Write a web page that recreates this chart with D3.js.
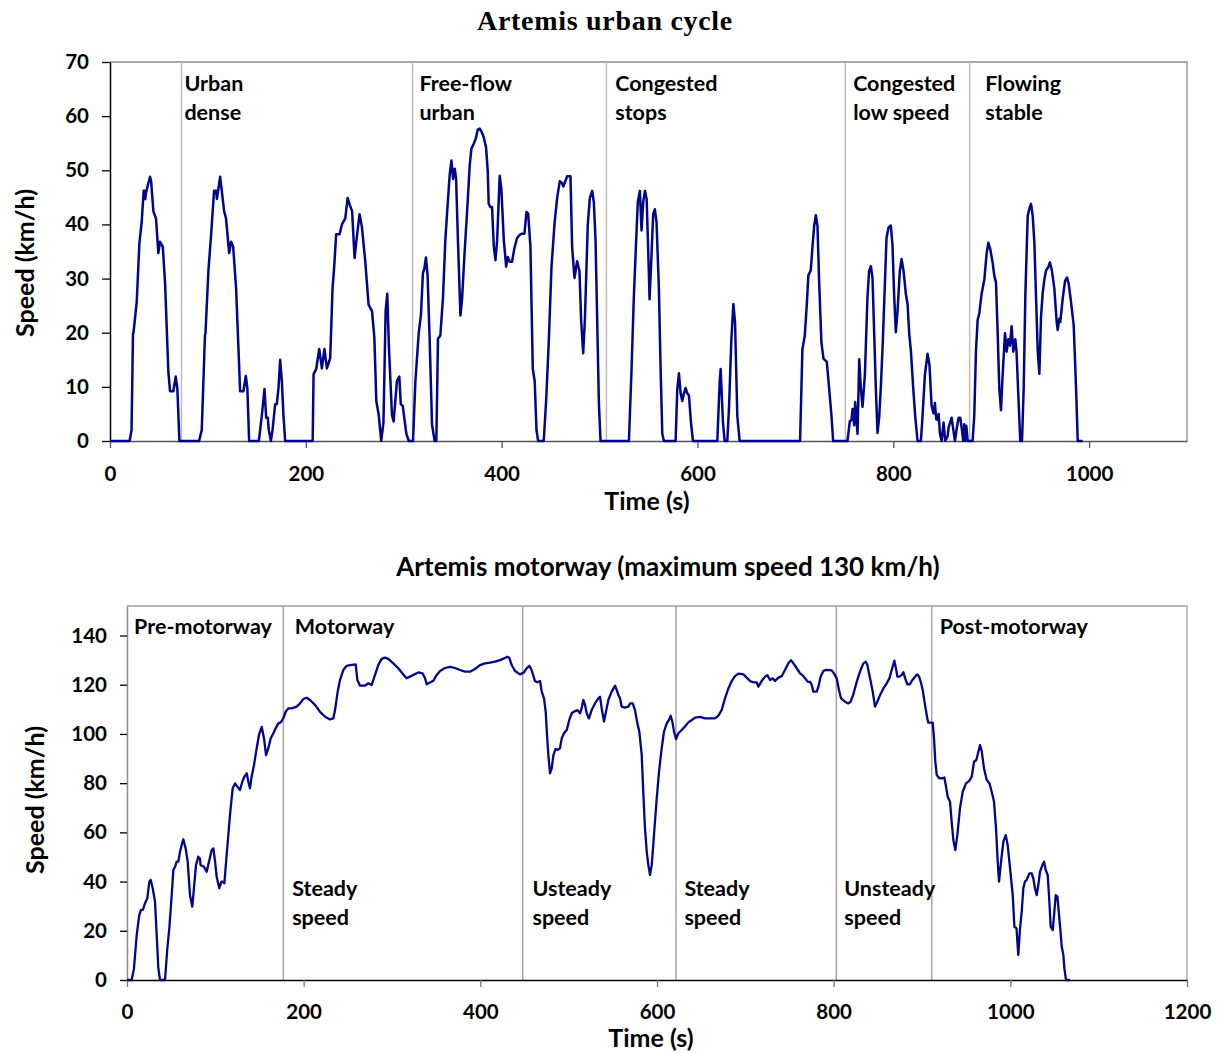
<!DOCTYPE html>
<html><head><meta charset="utf-8">
<script src="https://cdn.jsdelivr.net/npm/d3@7"></script>
<style>
body{margin:0;background:#fff;}
svg text{font-family:Lato,"Open Sans",sans-serif;font-weight:bold;fill:#000;}
</style></head>
<body><svg id="c" width="1221" height="1053"></svg>
<script>
// ---------- DATA ----------
const urbanTitle = "Artemis urban cycle";
const motorwayTitle = "Artemis motorway (maximum speed 130 km/h)";
const urbanXTicks = [0, 200, 400, 600, 800, 1000];
const urbanYTicks = [0, 10, 20, 30, 40, 50, 60, 70];
const motorwayXTicks = [0, 200, 400, 600, 800, 1000, 1200];
const motorwayYTicks = [0, 20, 40, 60, 80, 100, 120, 140];
const urbanBounds = [73, 309, 507, 751, 878];
const urbanLabels = [
  {t: 76, lines: ["Urban", "dense"]},
  {t: 316, lines: ["Free-flow", "urban"]},
  {t: 516, lines: ["Congested", "stops"]},
  {t: 759, lines: ["Congested", "low speed"]},
  {t: 894, lines: ["Flowing", "stable"]}
];
const motorwayBounds = [177, 448, 621.5, 803, 911];
const motorwayTopLabels = [
  {t: 8, text: "Pre-motorway"},
  {t: 190, text: "Motorway"},
  {t: 920, text: "Post-motorway"}
];
const motorwayBottomLabels = [
  {t: 187, lines: ["Steady", "speed"]},
  {t: 459, lines: ["Usteady", "speed"]},
  {t: 631, lines: ["Steady", "speed"]},
  {t: 812, lines: ["Unsteady", "speed"]}
];
// [time s, speed km/h]
const urbanCycle = [[0,0],[20,0],[22,2],[23.5,19.9],[24,20],[27.3,25.7],[30,36.5],[32.4,40.5],[34.4,46.2],[35.5,46.2],[36,44.7],[37,46],[39,47.5],[40.9,48.8],[42,48],[44.3,42.4],[47,41.1],[49.4,34.7],[51.1,36.8],[53.9,35.9],[56.2,29.4],[59.6,12.8],[61.3,9.2],[64.7,9.2],[67.1,11.9],[68.8,9.7],[70.9,0],[91,0],[93.7,2],[97,19.5],[97.5,19.9],[100.5,31.4],[103.3,38.2],[106.3,46.2],[108.5,46.2],[109.2,44.7],[112.5,48.8],[116.6,42.4],[118.5,41.1],[121.7,34.7],[123.7,36.8],[125.8,35.9],[128.8,28.2],[132.9,9.2],[136.3,9.2],[138.7,12],[140.3,9.7],[142.1,0],[152,0],[155,4.6],[157.8,9.6],[159.5,4.3],[161.2,4.3],[162,2.2],[164.3,0],[166,2],[168.7,6.8],[170.4,6.8],[172.1,9.8],[173.8,15],[175.5,11.1],[177.2,4.6],[178.9,0],[207,0],[207.9,12.3],[210.6,13.3],[213.7,17],[216.4,13.4],[219,17],[221.5,13.4],[224.9,15.3],[227.3,28.2],[229,32.2],[231,38.2],[234.5,38.2],[236.9,40],[240.3,41.1],[242.7,44.9],[244.7,43.7],[247.3,42.4],[249.8,33.8],[252,37.5],[254.9,41.9],[257.3,39.5],[260.7,33.2],[264.1,25.2],[267.6,24],[270,19.1],[272,7.4],[274.4,4.9],[277,0],[279.3,3.4],[281.5,24],[283.2,27.2],[284.9,17.2],[288,4.8],[289.7,3.6],[293.1,11.1],[295.5,11.9],[297,6.8],[299,6.5],[302.7,1.3],[305.2,0],[309.5,0],[311.9,11],[315.3,19.9],[317.6,23.3],[319.6,31],[321,31.8],[322.7,33.9],[324.4,30.5],[326.5,18.6],[328.9,3],[331.6,0],[333.3,0],[335,18.9],[337.4,19.5],[340.1,26.5],[342.5,37.1],[344.9,43.8],[347,49.3],[348.7,51.8],[350.4,48.4],[352.1,50.3],[353.5,48.4],[355.1,38.6],[357.9,23.2],[359.6,26.2],[362,34.3],[364.7,42.3],[367.4,50.9],[369.1,54],[371.5,54.9],[373.5,55.8],[375.6,57.5],[377.6,57.7],[379.3,57.2],[381.7,56.1],[384.1,54.2],[385.8,49.9],[386.8,43.8],[388.5,43.2],[390.2,43.2],[392,35.9],[393.7,33.4],[395.4,37.1],[398,49],[399.7,46.6],[402.2,37.2],[404.6,32.2],[406.3,34],[408.3,33.1],[410.6,33.1],[413.1,35.7],[415.8,37.5],[418.6,38.1],[421,38.3],[423.3,38.3],[425.4,42.3],[427.1,42],[429.4,35.9],[431.8,13.4],[433.8,11],[435.6,2],[437.3,0],[443,0],[445.5,7.6],[448.2,18.6],[450.9,32.1],[454,40.1],[456.7,44.9],[459.4,48],[461.4,47.7],[463,47],[466.9,48.9],[470.3,48.9],[472,35.9],[474.4,30.1],[477.1,33.2],[479.5,31.4],[481.2,22.3],[483.3,16.2],[485,22.3],[488,40],[490.1,44.9],[492.5,46.2],[494.2,44],[495.9,37.1],[497.6,22.3],[499.3,7.1],[501,0],[530,0],[532.7,13.3],[535,26.5],[537.5,37.5],[539.1,44.2],[541.2,46.2],[542.9,38.9],[544.6,44.2],[546.4,46.2],[548.1,44.7],[549.4,37.1],[551.1,26.2],[552.8,33.2],[554.8,41.9],[556.5,42.8],[558.2,40.4],[560.6,28.2],[562.4,13],[564.1,1.3],[565.8,0],[577.7,0],[579.4,9.6],[581.1,12.5],[582.8,8.8],[584.5,7.4],[586.2,8.8],[587.9,9.8],[589.6,8.8],[591.3,8.4],[593.3,3.6],[595.4,0],[620.3,0],[622.7,11],[623.7,13.3],[626,3.6],[627.8,0],[630.5,0],[632.3,6.5],[634.6,18.7],[636.7,25.3],[638.4,21.9],[640.7,4.6],[643.1,0],[704.8,0],[707.2,17],[709.6,19.4],[711.7,25.3],[713.3,30.6],[715.7,31.5],[717.8,36.6],[719.2,39.7],[720.9,41.7],[722.6,39.7],[724.3,29.3],[726.6,18.2],[728.7,15.2],[732.1,14.6],[734.5,9.7],[736.9,4.6],[738.6,0],[753.2,0],[755.6,3.6],[757.3,3.9],[758.4,5.9],[760.1,2.9],[761.1,7.2],[763.5,1.3],[765.2,15.1],[766.9,9.7],[768.6,6.3],[771,12.2],[773.6,26.4],[775.3,31.4],[777.1,32.3],[778.8,30.1],[780.5,19.9],[782.2,9.7],[783.9,1.5],[785.6,4.3],[787.3,10],[789,17],[790.7,25.3],[793.1,37.5],[795.1,39.4],[797.5,39.8],[799.2,36.2],[800.9,26.9],[802.6,20.1],[804.3,23.8],[806.7,31.4],[808.5,33.6],[810.5,31.4],[812.9,27.1],[814.6,25.3],[816.3,19.8],[818,16.7],[820.4,9.7],[822.4,4.6],[824.8,0],[828.2,0],[829.9,4.6],[832.3,12.2],[835,16.1],[837,14],[839.1,6.6],[841.1,5.1],[842.5,7],[843.9,4],[845.3,3.9],[846.3,5],[847.7,1.3],[849.4,0],[851.4,3.4],[853.1,0],[855.5,0.9],[856.5,2.5],[859.6,4.3],[861.3,2.1],[863,0],[864.6,2.1],[866.7,4.3],[868.4,4.3],[870.1,2.1],[871.5,0],[872.5,3.1],[873.5,0],[874.6,2.8],[876,0],[881,0],[882.7,4.6],[884.5,16.8],[886.2,22.4],[887.9,23.6],[890.3,27.3],[893,29.8],[895.4,34.7],[897.1,36.6],[899.1,35.4],[901.5,32.9],[903.2,30.5],[904.9,29.3],[906.6,20.1],[908.3,9.7],[910,5.7],[911.7,12.2],[914.1,19.9],[915.8,16.5],[917.5,18.8],[919.2,17.6],[920.9,21.2],[922.6,16.5],[924.6,18.8],[925.9,16.5],[928,7.3],[929.7,0],[931.5,0],[933.2,9.7],[934.9,27],[937.3,41.6],[939,42.9],[940.7,43.8],[942.4,41.6],[944.1,36.7],[945.8,26.7],[947.5,16.8],[949.2,12.4],[950.9,22.9],[952.6,27.3],[954.3,29.8],[956,31.5],[958.3,32.1],[960,33],[962,31.5],[964.5,28.2],[966.9,22],[967.9,20.5],[969.6,22.6],[970.6,22],[973.1,26.4],[975.5,29.6],[977.5,30.2],[979.2,29],[981.6,25.6],[984.3,21.3],[986.7,9.7],[988.4,0],[993.5,0]];
const motorwayCycle = [[0,0],[5.3,0],[7.9,4.7],[11,18.3],[13.9,26.4],[15.8,28.5],[18,28.5],[20.4,31.2],[23,33.2],[25.3,40],[26.8,40.7],[29.1,37.3],[31.7,31.9],[33.6,18.3],[35.5,4.7],[37.4,0],[43,0],[45.7,12.9],[47.9,21],[50.6,34.5],[52.5,44.7],[54.4,46],[56.2,48.1],[58.1,48.1],[60,52.1],[61.9,54.9],[63.7,57.2],[66.4,53.5],[68.7,48.1],[71.3,34.5],[73.9,29.8],[75.8,37.3],[78.1,46.7],[80.7,50.1],[82.6,49.4],[83.3,46.7],[87.1,46],[90.2,44],[92.8,48.1],[95.9,52.8],[97.8,53.5],[99.7,48.1],[101.5,42],[104.5,37.3],[106.9,40],[108.3,40],[110.2,39.3],[112.8,50.8],[116.6,67],[119.6,77.9],[122.3,79.9],[124.9,78.6],[127.9,77.2],[130.5,80.6],[132.8,82.6],[135.5,84],[137.4,80.6],[139.2,77.9],[141.1,82.6],[143.8,87.4],[146.8,94.2],[149.4,99.6],[152.5,102.9],[155.1,98.2],[157.4,91.4],[160,94.2],[162.7,98.2],[165.7,100.3],[168.3,102.3],[171.3,104.3],[174,104.7],[177,106.3],[179.6,109],[182.6,110.4],[186.4,110.4],[192.1,111.1],[195.9,112.4],[199.6,114.2],[203.4,114.7],[207.2,113.8],[212.8,111.8],[218.5,109],[224.2,107],[229.8,105.9],[233.6,106.3],[235.5,109.7],[238.5,117.2],[241.1,121.9],[244.9,126],[248.7,127.7],[252.5,128],[258.9,128.3],[260.8,121.9],[263.8,119.6],[269.4,119.6],[273.2,120.6],[277,119.9],[280.8,124],[284.5,128],[288.3,130.5],[292.1,131],[295.8,130.5],[301.5,128.7],[307.1,126.7],[312.8,124.2],[316.6,122.6],[320.4,123.3],[324.1,124],[329.8,125],[334.7,124.6],[337.4,122.6],[339.3,120.2],[343,120.9],[346.8,121.6],[350.6,124],[354.4,125.6],[360,126.8],[365.7,127.3],[371.3,126.8],[377,126],[382.7,125.3],[388.3,125.3],[394,126.4],[399.6,128],[405.3,128.7],[411,129],[416.6,129.4],[422.3,130],[426.8,130.7],[430.6,131.4],[432.8,130.9],[435.5,128],[439.3,125.6],[444.9,124.2],[449.4,125],[452.5,126.7],[455.5,127.7],[458,126],[461.9,121.5],[464.5,121],[467.6,121.5],[469.5,117.2],[472.1,114.5],[474,109],[475.5,99.6],[477,91.4],[478.9,84],[480.8,86],[482.7,91.4],[485.3,93.9],[487.6,93.5],[490.2,94.2],[492.1,98.2],[494.7,100.3],[497.8,101.6],[500.7,105.7],[503.4,108.4],[507.2,109.3],[510,109.7],[512.8,108.4],[514.7,110.4],[516.6,113.8],[518.5,111.8],[520.4,108.4],[523,106.3],[526,109.7],[529.8,112.4],[533.6,114.5],[535.5,115.1],[537.4,110.4],[540,105],[541.9,108.4],[544.9,113.8],[548.7,117.2],[552.5,119.6],[554.4,117.9],[556.3,115.8],[558.1,114.5],[560,111.1],[563.8,110.7],[567.5,111.1],[569.5,112.4],[572.5,112.4],[575.1,109.7],[577.8,104.3],[580,100.9],[582.7,91.4],[584.6,75.2],[586.4,61.6],[588.4,52.1],[590.2,46.7],[592.1,42.7],[594,46.7],[595.8,54.9],[597.7,64.3],[599.7,73.8],[602.3,84.7],[605.3,94.2],[607.9,100.9],[611,104.3],[613.6,105.7],[615.5,107.4],[617.4,104.9],[619.3,100.9],[621.6,97.9],[624.2,100.3],[628,101.6],[631.7,103],[635.5,104.7],[641.1,106.1],[643,106.6],[648.7,106.9],[654.3,106.3],[660,106.3],[665.6,106.3],[669.4,107.4],[673.2,109.7],[677,114.5],[680.8,118.5],[684.6,121.5],[688.3,123.5],[692.1,124.5],[697.8,124.2],[701.6,122.9],[705.3,121.5],[709.1,121],[712.8,121],[714.7,119.2],[718.5,121.5],[722.3,123.3],[724.9,123.9],[728,121.9],[731,122.6],[733.6,121.5],[737.4,122.9],[741.2,123.5],[744.9,126],[748.7,128.7],[751.7,130],[754.4,128.7],[758.2,126.7],[762,124.6],[764.6,123.9],[767.6,122.6],[770.7,121.2],[773.3,121.2],[775.2,119.9],[777,117.2],[780.8,117.2],[782.7,119.2],[785.3,123.3],[788.3,125.6],[792.1,126],[797.8,125.8],[800.4,124.6],[803.4,122.6],[806,117.9],[808.3,114.5],[812.8,113.1],[816.6,112.4],[819.2,113.1],[822.3,116.1],[826.1,121.2],[829.8,125.3],[833.6,128.7],[836.3,129.4],[838.1,128],[841.2,122.6],[844.2,117.2],[846.8,111.1],[849.4,113.1],[852.5,115.8],[856.3,118.5],[860.1,120.6],[863.1,122.6],[865.7,126],[868.7,129.8],[870.5,126.7],[872.1,123.3],[874.4,123.3],[877.1,124],[878.9,125.1],[881,122.6],[883.4,120.2],[886.4,120.2],[888.4,121.5],[892.1,123.3],[894.7,124.2],[896.7,123.3],[898.6,121.2],[900.8,117.9],[903.4,111.8],[906,106.3],[907.2,104.6],[912.1,104.6],[913.6,98.2],[915.1,88.7],[916.7,83.3],[919.6,82],[923.4,82],[925.3,82.3],[927.2,78.6],[929.1,74.5],[931.7,72.5],[933.6,64.3],[935.5,56.9],[937.7,52.8],[940,58.9],[943,69.8],[946.1,76.5],[949.8,79.9],[953.5,80.9],[956.3,82.6],[958.9,88.7],[961.5,89.4],[963.8,92.8],[965.7,95.5],[967.6,93],[970.2,86],[973.3,81.3],[976.3,80],[978.9,76.5],[981.5,72.5],[983.8,61.6],[985.7,48.1],[987.2,40],[989.5,48.1],[992.1,56.2],[994.8,58.9],[997,54.9],[999.7,45.4],[1002.7,34.5],[1004.6,21.7],[1007,21],[1009,10.2],[1011,21],[1012.9,27.8],[1014.7,37.3],[1016.6,40],[1018.5,40.7],[1021.5,43.3],[1024.2,43.3],[1026,41.3],[1027.9,37.3],[1029.9,34.5],[1031.7,38.6],[1033.6,44],[1036.3,46.7],[1038.2,48.1],[1040,44.7],[1042.3,42.7],[1044.2,31.8],[1045.7,21.7],[1048,20.3],[1049.5,26.4],[1051.4,34.5],[1053.3,33.9],[1054.8,27.8],[1056.5,21],[1058.2,13.5],[1060,10.2],[1061.2,4.7],[1063,0],[1067.6,0]];

// ---------- DRAW ----------
const svg = d3.select("#c");
const LINE = "#00068c";
const fmt = d3.format("d");

function chart(o) {
  const x = d3.scaleLinear().domain(o.xDomain).range([o.left, o.right]);
  const y = d3.scaleLinear().domain(o.yDomain).range([o.bottom, o.top]);
  const g = svg.append("g");
  g.append("path").attr("d", `M${o.left},${o.top}H${o.right}V${o.bottom}`)
    .attr("fill", "none").attr("stroke", o.frameColor).attr("stroke-width", 1.3);
  g.selectAll("line.sep").data(o.bounds).join("line").attr("class", "sep")
    .attr("x1", d => x(d)).attr("x2", d => x(d))
    .attr("y1", o.top).attr("y2", o.bottom)
    .attr("stroke", o.sepColor).attr("stroke-width", 1.5);
  const ya = g.append("g").attr("transform", `translate(${o.left},0)`)
    .call(d3.axisLeft(y).tickValues(o.yTicks).tickFormat(fmt).tickSize(o.yTickSize).tickSizeOuter(0).tickPadding(o.yPad));
  ya.select(".domain").attr("stroke", o.yAxisColor).attr("stroke-width", 1.5);
  ya.selectAll(".tick line").attr("stroke", "#000").attr("stroke-width", 1.3);
  ya.selectAll("text").style("font-size", o.tickFont + "px").attr("fill", "#000");
  const xa = g.append("g").attr("transform", `translate(0,${o.bottom})`)
    .call(d3.axisBottom(x).tickValues(o.xTicks).tickFormat(fmt).tickSize(7).tickSizeOuter(0).tickPadding(o.xPad));
  xa.select(".domain").attr("stroke", o.xAxisColor).attr("stroke-width", 1.5);
  xa.selectAll(".tick line").attr("stroke", o.xTickColor).attr("stroke-width", 1.3);
  xa.selectAll("text").style("font-size", o.tickFont + "px").attr("fill", "#000");
  const line = d3.line().x(d => x(d[0])).y(d => y(d[1]));
  g.append("path").datum(o.data).attr("d", line)
    .attr("fill", "none").attr("stroke", LINE).attr("stroke-width", o.lw)
    .attr("stroke-linejoin", "round");
  g.append("text").attr("x", o.titleX).attr("y", o.titleY).attr("text-anchor", "middle")
    .style("font-family", o.titleFamily).style("font-size", o.titleSize + "px")
    .style("letter-spacing", o.titleSpacing + "px").text(o.title);
  g.append("text").attr("x", o.xTitleX).attr("y", o.xTitleY).attr("text-anchor", "middle")
    .style("font-size", "25px").text("Time (s)");
  g.append("text").attr("transform", `translate(${o.yTitleX},${o.yTitleY}) rotate(-90)`)
    .attr("text-anchor", "middle").style("font-size", "25px").text("Speed (km/h)");
  return {x, y, g};
}

const urbanChart = chart({
  xDomain: [0, 1100], yDomain: [0, 70], left: 110, right: 1187, top: 62, bottom: 441,
  bounds: urbanBounds, xTicks: urbanXTicks, yTicks: urbanYTicks, data: urbanCycle,
  frameColor: "#8c8c8c", sepColor: "#bdbdbd", yAxisColor: "#000", xAxisColor: "#555",
  xTickColor: "#555", yTickSize: 8, yPad: 13, xPad: 18, tickFont: 20.5, lw: 2.5,
  title: urbanTitle, titleX: 605, titleY: 30, titleFamily: "'Liberation Serif','DejaVu Serif',serif",
  titleSize: 28, titleSpacing: 0.7,
  xTitleX: 647, xTitleY: 510, yTitleX: 34, yTitleY: 263
});
urbanLabels.forEach(l => {
  l.lines.forEach((s, i) => {
    urbanChart.g.append("text").attr("x", urbanChart.x(l.t)).attr("y", 91 + i * 28.5)
      .style("font-size", "21.5px").text(s);
  });
});

const motorwayChart = chart({
  xDomain: [0, 1200], yDomain: [0, 152], left: 127, right: 1187, top: 606, bottom: 980,
  bounds: motorwayBounds, xTicks: motorwayXTicks, yTicks: motorwayYTicks, data: motorwayCycle,
  frameColor: "#a0a0a0", sepColor: "#a6a6a6", yAxisColor: "#8c8c8c", xAxisColor: "#000",
  xTickColor: "#777", yTickSize: 7, yPad: 13, xPad: 17, tickFont: 20.5, lw: 2.3,
  title: motorwayTitle, titleX: 668, titleY: 576, titleFamily: "Lato,sans-serif",
  titleSize: 26, titleSpacing: 0,
  xTitleX: 651, xTitleY: 1047, yTitleX: 44, yTitleY: 800
});
motorwayTopLabels.forEach(l => {
  motorwayChart.g.append("text").attr("x", motorwayChart.x(l.t)).attr("y", 634).style("font-size", "21.5px").text(l.text);
});
motorwayBottomLabels.forEach(l => {
  l.lines.forEach((s, i) => {
    motorwayChart.g.append("text").attr("x", motorwayChart.x(l.t)).attr("y", 896 + i * 28.5)
      .style("font-size", "21.5px").text(s);
  });
});
</script></body></html>
